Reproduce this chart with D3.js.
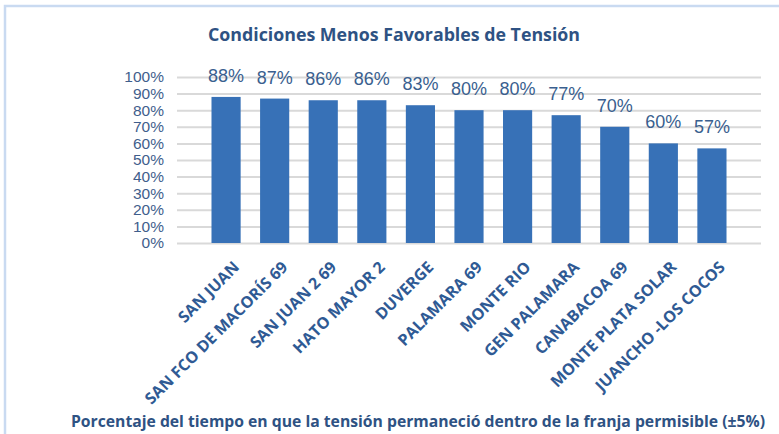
<!DOCTYPE html>
<html>
<head>
<meta charset="utf-8">
<script src="https://cdn.jsdelivr.net/npm/d3@7"></script>
<style>
  body { margin: 0; background: #fff; }
  svg { display: block; }
</style>
</head>
<body>
<div id="chart"></div>
<script>
var width = 779,
	height = 434;

// data
var stations = ['SAN JUAN', 'SAN FCO DE MACORÍS 69', 'SAN JUAN 2 69', 'HATO MAYOR 2', 'DUVERGE',
	'PALAMARA 69', 'MONTE RIO', 'GEN PALAMARA', 'CANABACOA 69', 'MONTE PLATA SOLAR', 'JUANCHO -LOS COCOS'];
var percentWithin = [0.88, 0.87, 0.86, 0.86, 0.83, 0.80, 0.80, 0.77, 0.70, 0.60, 0.57];
var yTicks = [0, 0.1, 0.2, 0.3, 0.4, 0.5, 0.6, 0.7, 0.8, 0.9, 1.0];
var chartTitle = 'Condiciones Menos Favorables de Tensión';
var axisTitle = 'Porcentaje del tiempo en que la tensión permaneció dentro de la franja permisible (±5%)';

var svg = d3.select('#chart').append('svg')
	.attr('width', width)
	.attr('height', height);

// frame of the chart (only the left and top edges are in view)
svg.append('path')
	.attr('d', 'M5,' + height + 'V6H' + width)
	.attr('fill', 'none')
	.attr('stroke', '#C9DAF1')
	.attr('stroke-width', 2.5);

var plotLeft = 177, plotRight = 761;

var x = d3.scaleBand()
	.domain(stations)
	.range([plotLeft, plotRight])
	.paddingInner(0.4)
	.paddingOuter(0.71);

var y = d3.scaleLinear()
	.domain([0, 1])
	.range([243, 77]);

// gridlines + y labels
var yAxis = d3.axisLeft(y)
	.tickValues(yTicks)
	.tickSize(-(plotRight - plotLeft))
	.tickPadding(13)
	.tickFormat(d3.format('.0%'));

var gy = svg.append('g')
	.attr('transform', 'translate(' + plotLeft + ',0)')
	.call(yAxis);
gy.select('.domain').remove();
gy.selectAll('.tick line')
	.attr('stroke', '#D9D9D9')
	.attr('stroke-width', 2);
gy.selectAll('.tick text')
	.attr('fill', '#3F5E8C')
	.style('font-family', '"Liberation Sans", Arial, sans-serif')
	.style('font-size', '15.5px');

// bars
svg.selectAll('rect.bar')
	.data(percentWithin)
	.enter().append('rect')
	.attr('class', 'bar')
	.attr('x', function(d, i){ return x(stations[i]); })
	.attr('width', x.bandwidth())
	.attr('y', function(d){ return y(d); })
	.attr('height', function(d){ return y(0) - y(d); })
	.attr('fill', '#3771B7');

// value labels
svg.selectAll('text.val')
	.data(percentWithin)
	.enter().append('text')
	.attr('class', 'val')
	.attr('x', function(d, i){ return x(stations[i]) + x.bandwidth() / 2; })
	.attr('y', function(d){ return y(d) - 15; })
	.attr('text-anchor', 'middle')
	.attr('fill', '#3A5F8F')
	.style('font-family', '"Liberation Sans", Arial, sans-serif')
	.style('font-size', '18px')
	.text(function(d){ return Math.round(d * 100) + '%'; });

// rotated category labels
svg.selectAll('text.cat')
	.data(stations)
	.enter().append('text')
	.attr('class', 'cat')
	.attr('transform', function(d){
		return 'translate(' + (x(d) + x.bandwidth() / 2 + 6) + ',260) rotate(-45)';
	})
	.attr('text-anchor', 'end')
	.attr('dy', '0.72em')
	.attr('fill', '#2F5A94')
	.style('font-family', '"Open Sans", sans-serif')
	.style('font-weight', 'bold')
	.style('font-size', '16px')
	.text(function(d){ return d; });

// titles
svg.append('text')
	.attr('x', 394)
	.attr('y', 40.5)
	.attr('text-anchor', 'middle')
	.attr('textLength', 372)
	.attr('lengthAdjust', 'spacingAndGlyphs')
	.attr('fill', '#2E5283')
	.style('font-family', '"Open Sans", sans-serif')
	.style('font-weight', 'bold')
	.style('font-size', '17.5px')
	.text(chartTitle);

svg.append('text')
	.attr('x', 418)
	.attr('y', 427)
	.attr('text-anchor', 'middle')
	.attr('textLength', 694)
	.attr('lengthAdjust', 'spacingAndGlyphs')
	.attr('fill', '#2E5283')
	.style('font-family', '"Open Sans", sans-serif')
	.style('font-weight', 'bold')
	.style('font-size', '16px')
	.text(axisTitle);
</script>
</body>
</html>
